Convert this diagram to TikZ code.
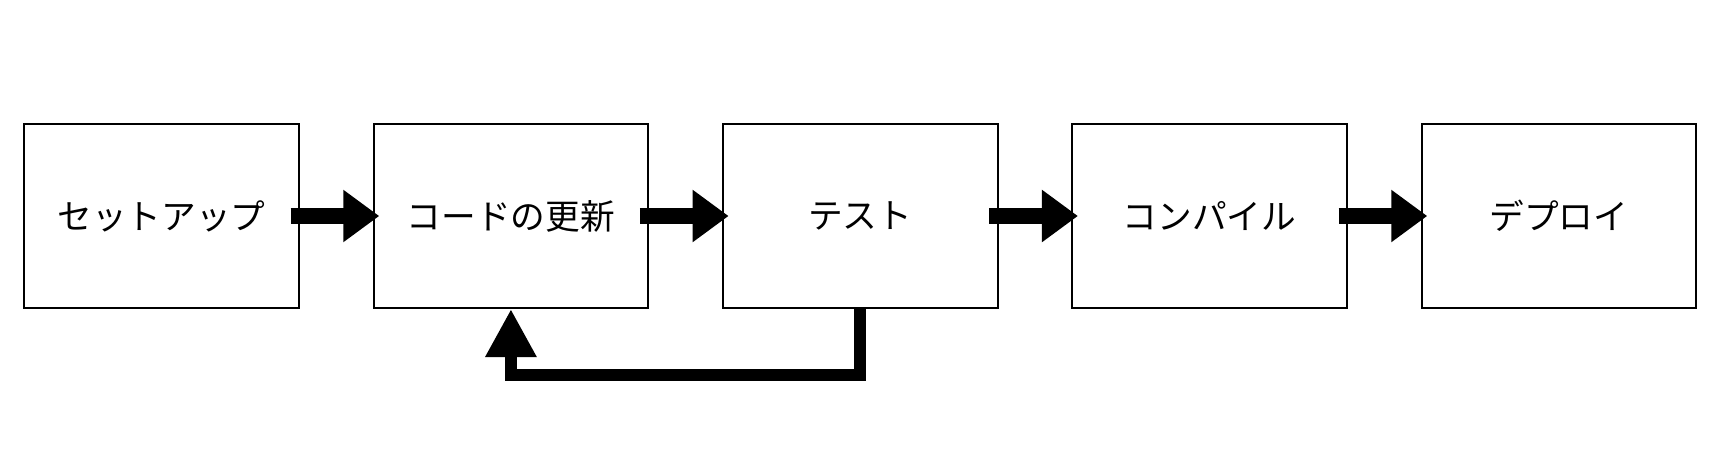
\documentclass[tikz,border=0pt]{standalone}
\usepackage{fontspec}
\newfontfamily\jpfont{Noto Sans CJK JP}
\usetikzlibrary{positioning,arrows.meta}
\begin{document}
\begin{tikzpicture}[x=0.75pt,y=0.75pt,
    stage/.style={draw,line width=1.5pt,minimum width=206pt,minimum height=138pt,
        inner sep=0pt,font=\jpfont\fontsize{26}{30}\selectfont},
    flow/.style={line width=12pt,-{Triangle[length=27pt,width=37.5pt]}},
    back/.style={line width=9pt,-{Triangle[length=36pt,width=36pt]}}]
    \useasboundingbox (0,0) rectangle (1724,-450);
    \node[stage] (setup) at (161.6,-216) {セットアップ};
    \node[stage,right=54.5pt of setup] (update) {コードの更新};
    \node[stage,right=54.5pt of update] (test) {テスト};
    \node[stage,right=54.5pt of test] (compile) {コンパイル};
    \node[stage,right=54.5pt of compile] (deploy) {デプロイ};
    \draw[flow] ([xshift=-7pt]setup.east) -- ([xshift=5pt]update.west);
    \draw[flow] ([xshift=-7pt]update.east) -- ([xshift=5pt]test.west);
    \draw[flow] ([xshift=-7pt]test.east) -- ([xshift=5pt]compile.west);
    \draw[flow] ([xshift=-7pt]compile.east) -- ([xshift=5pt]deploy.west);
    % back to update
    \draw[back,line join=miter] (test.south) -- ++(0,-66) -| (update.south);
\end{tikzpicture}
\end{document}
